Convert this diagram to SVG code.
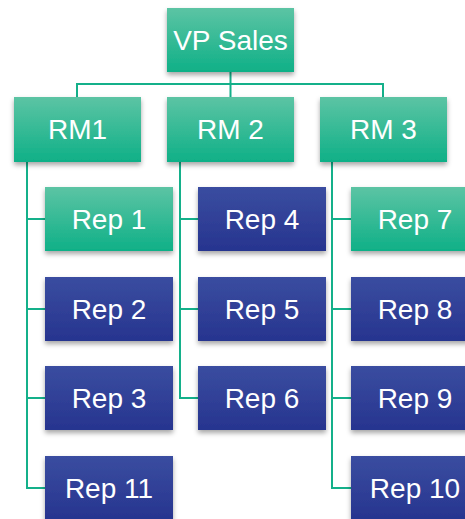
<svg xmlns="http://www.w3.org/2000/svg" width="465" height="519" viewBox="0 0 465 519">
<defs>
<linearGradient id="gg" x1="0" y1="0" x2="0" y2="1"><stop offset="0" stop-color="#5cc4a4"/><stop offset="1" stop-color="#0fb087"/></linearGradient>
<linearGradient id="bg" x1="0" y1="0" x2="0" y2="1"><stop offset="0" stop-color="#3a4da0"/><stop offset="1" stop-color="#27348f"/></linearGradient>
<filter id="sh" x="-10%" y="-10%" width="125%" height="135%"><feDropShadow dx="0" dy="3" stdDeviation="2.5" flood-color="#000" flood-opacity="0.35"/></filter>
<style>
.g{fill:url(#gg);filter:url(#sh)}
.b{fill:url(#bg);filter:url(#sh)}
text{font-family:"Liberation Sans",Arial,sans-serif;font-size:28px;fill:#fff;text-anchor:middle}
.c{fill:none;stroke:#14b08a;stroke-width:2}
</style>
</defs>
<g id="connectors">
<path class="c" d="M230.5 72V84M77 97V84H383V97M230.5 84V97"/>
<path class="c" d="M27 162V488H45M27 219H45M27 309H45M27 398H45"/>
<path class="c" d="M180 162V398H198M180 219H198M180 309H198"/>
<path class="c" d="M332 162V488H351M332 219H351M332 309H351M332 398H351"/>
</g>
<g id="vp"><rect class="g" x="167" y="8" width="127" height="64"/><text x="230.5" y="50">VP Sales</text></g>
<g id="rm1"><rect class="g" x="14" y="97" width="127" height="65"/><text x="77.5" y="139">RM1</text></g>
<g id="rm2"><rect class="g" x="167" y="97" width="127" height="65"/><text x="230.5" y="139">RM 2</text></g>
<g id="rm3"><rect class="g" x="320" y="97" width="127" height="65"/><text x="383.5" y="139">RM 3</text></g>
<g id="rep1"><rect class="g" x="45" y="187" width="128" height="64"/><text x="109" y="229">Rep 1</text></g>
<g id="rep2"><rect class="b" x="45" y="277" width="128" height="64"/><text x="109" y="319">Rep 2</text></g>
<g id="rep3"><rect class="b" x="45" y="366" width="128" height="64"/><text x="109" y="408">Rep 3</text></g>
<g id="rep11"><rect class="b" x="45" y="456" width="128" height="64"/><text x="109" y="498">Rep 11</text></g>
<g id="rep4"><rect class="b" x="198" y="187" width="128" height="64"/><text x="262" y="229">Rep 4</text></g>
<g id="rep5"><rect class="b" x="198" y="277" width="128" height="64"/><text x="262" y="319">Rep 5</text></g>
<g id="rep6"><rect class="b" x="198" y="366" width="128" height="64"/><text x="262" y="408">Rep 6</text></g>
<g id="rep7"><rect class="g" x="351" y="187" width="128" height="64"/><text x="415" y="229">Rep 7</text></g>
<g id="rep8"><rect class="b" x="351" y="277" width="128" height="64"/><text x="415" y="319">Rep 8</text></g>
<g id="rep9"><rect class="b" x="351" y="366" width="128" height="64"/><text x="415" y="408">Rep 9</text></g>
<g id="rep10"><rect class="b" x="351" y="456" width="128" height="64"/><text x="415" y="498">Rep 10</text></g>
</svg>
